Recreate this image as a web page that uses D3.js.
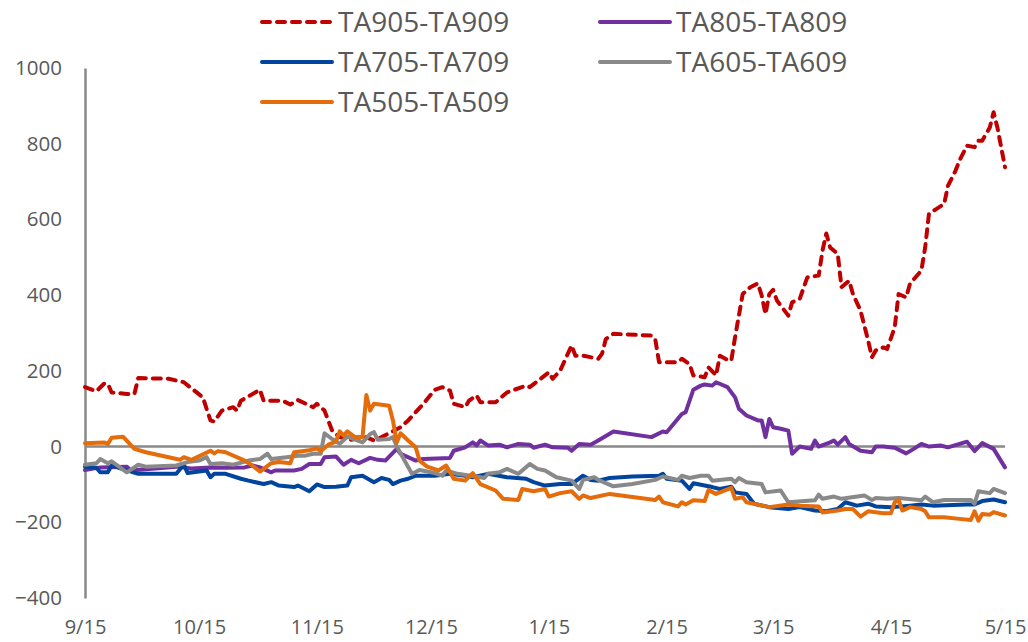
<!DOCTYPE html>
<html>
<head>
<meta charset="utf-8">
<script src="https://cdn.jsdelivr.net/npm/d3@7"></script>
<style>
  html, body { margin: 0; padding: 0; background: #ffffff; }
  svg { display: block; }
</style>
</head>
<body>
<svg id="chart" width="1028" height="642"></svg>
<script>
// ---------------- DATA ----------------
const seriesNames = ["TA905-TA909", "TA805-TA809", "TA705-TA709", "TA605-TA609", "TA505-TA509"];
const seriesColors = ["#C00000", "#7030A0", "#00449E", "#898989", "#E46C0A"];

const xTickLabels = ["9/15", "10/15", "11/15", "12/15", "1/15", "2/15", "3/15", "4/15", "5/15"];
const yTickValues = [-400, -200, 0, 200, 400, 600, 800, 1000];

const ta905Dates = ["9/15","9/18","9/20","9/21","9/22","9/26","9/28","9/29","10/7","10/11","10/16","10/18","10/19","10/21","10/24","10/25","10/26","10/31","11/1","11/6","11/8","11/10","11/14","11/15","11/17","11/19","11/21","11/24","11/28","11/30","12/2","12/7","12/9","12/13","12/16","12/18","12/20","12/21","12/24","12/25","12/27","12/28","1/1","1/4","1/9","1/10","1/15","1/16","1/18","1/21","1/22","1/24","1/28","1/29","1/30","2/1","2/11","2/12","2/13","2/18","2/19","2/21","2/22","2/24","2/25","2/26","2/28","3/1","3/3","3/4","3/5","3/7","3/9","3/11","3/12","3/13","3/14","3/15","3/16","3/19","3/20","3/22","3/24","3/27","3/28","3/29","3/30","4/1","4/2","4/4","4/5","4/7","4/9","4/10","4/11","4/13","4/14","4/16","4/17","4/19","4/20","4/23","4/24","4/25","4/27","4/29","4/30","5/2","5/3","5/5","5/7","5/8","5/9","5/11","5/12","5/13","5/15"];
const ta905Values = [157,146,166,166,143,139,139,181,179,170,130,69,66,95,104,95,121,150,121,121,111,123,104,113,95,42,25,18,25,16,25,51,69,113,150,157,148,113,104,121,135,117,117,143,161,157,196,179,201,267,240,240,232,245,284,298,293,284,223,223,232,218,188,185,183,209,188,240,229,227,289,403,421,431,399,350,403,414,386,346,381,390,447,452,518,563,526,509,421,438,403,359,280,236,254,262,258,315,403,394,430,465,526,615,628,641,689,729,755,795,791,808,808,843,883,843,738];

const ta805Dates = ["9/15","9/19","9/26","9/27","10/9","10/13","10/18","10/22","10/27","10/29","10/31","11/3","11/4","11/9","11/11","11/13","11/16","11/17","11/20","11/22","11/24","11/26","11/29","12/1","12/3","12/6","12/7","12/11","12/13","12/20","12/21","12/24","12/26","12/27","12/28","12/30","1/2","1/4","1/7","1/10","1/11","1/14","1/16","1/20","1/21","1/23","1/26","1/28","2/1","2/11","2/14","2/15","2/19","2/20","2/22","2/24","2/25","2/27","2/28","3/3","3/5","3/6","3/8","3/11","3/12","3/13","3/14","3/15","3/17","3/19","3/20","3/22","3/25","3/26","3/27","3/30","3/31","4/1","4/3","4/4","4/7","4/10","4/11","4/13","4/16","4/19","4/21","4/23","4/25","4/28","4/30","5/5","5/7","5/9","5/12","5/15"];
const ta805Values = [-62,-55,-53,-63,-53,-58,-55,-56,-55,-50,-55,-68,-63,-63,-59,-46,-46,-28,-26,-48,-35,-44,-30,-35,-37,-6,-19,-37,-33,-30,-11,-2,11,3,16,3,5,-2,7,5,-3,5,-2,-3,-11,7,5,16,40,25,40,38,86,91,150,161,164,161,170,157,130,100,82,69,69,25,73,51,47,42,-19,0,-6,16,0,11,16,5,25,7,-11,-15,0,0,-3,-18,-6,7,0,3,-2,13,-12,9,-6,-55];

const ta705Dates = ["9/15","9/18","9/19","9/21","9/22","9/26","9/29","10/9","10/11","10/12","10/17","10/18","10/19","10/22","10/26","10/28","11/1","11/3","11/5","11/9","11/10","11/13","11/15","11/17","11/20","11/23","11/24","11/27","11/30","12/2","12/4","12/5","12/7","12/9","12/11","12/16","12/20","12/24","12/26","12/30","1/4","1/9","1/11","1/14","1/18","1/21","1/24","1/26","1/28","1/31","2/6","2/13","2/14","2/15","2/19","2/21","2/22","2/25","2/27","3/1","3/4","3/5","3/8","3/10","3/14","3/19","3/22","3/26","3/29","4/1","4/3","4/6","4/9","4/11","4/15","4/20","4/23","4/26","5/5","5/7","5/9","5/12","5/15"];
const ta705Values = [-53,-56,-68,-68,-50,-63,-72,-72,-48,-70,-63,-81,-72,-72,-85,-90,-99,-94,-103,-107,-103,-118,-100,-107,-106,-103,-81,-77,-94,-83,-88,-99,-90,-85,-77,-77,-72,-77,-81,-72,-81,-85,-94,-103,-99,-99,-77,-88,-90,-83,-79,-77,-72,-85,-90,-112,-97,-103,-107,-112,-106,-121,-125,-151,-160,-165,-160,-169,-171,-165,-147,-156,-151,-158,-160,-156,-153,-156,-153,-153,-144,-140,-147];

const ta605Dates = ["9/15","9/18","9/19","9/21","9/22","9/26","9/29","10/1","10/9","10/12","10/15","10/17","10/18","10/21","10/24","10/28","10/31","11/2","11/3","11/7","11/10","11/12","11/14","11/16","11/17","11/19","11/21","11/23","11/27","11/29","11/30","12/1","12/4","12/5","12/6","12/10","12/12","12/16","12/18","12/19","12/22","12/28","12/29","12/30","1/2","1/4","1/7","1/10","1/12","1/14","1/17","1/21","1/23","1/24","1/27","1/28","2/1","2/6","2/12","2/14","2/18","2/19","2/21","2/24","2/26","2/27","3/4","3/5","3/6","3/8","3/12","3/13","3/17","3/19","3/26","3/27","3/28","3/31","4/2","4/8","4/10","4/11","4/14","4/17","4/23","4/24","4/26","4/29","5/6","5/7","5/8","5/11","5/12","5/15"];
const ta605Values = [-48,-44,-33,-44,-39,-68,-48,-53,-50,-41,-37,-28,-46,-44,-48,-37,-33,-19,-33,-28,-24,-24,-19,-19,35,20,7,26,11,33,38,18,20,25,0,-72,-62,-70,-77,-63,-72,-81,-83,-72,-68,-59,-72,-46,-59,-63,-81,-90,-112,-88,-81,-88,-105,-99,-88,-79,-88,-77,-83,-77,-77,-90,-85,-94,-83,-94,-99,-121,-116,-147,-142,-127,-138,-132,-138,-129,-141,-136,-138,-136,-142,-132,-147,-141,-141,-151,-118,-123,-112,-123];

const ta505Dates = ["9/15","9/20","9/21","9/22","9/25","9/28","10/1","10/10","10/11","10/13","10/18","10/19","10/20","10/22","10/27","10/29","10/31","11/3","11/5","11/8","11/9","11/13","11/15","11/16","11/18","11/20","11/21","11/22","11/23","11/25","11/27","11/28","11/29","11/30","12/4","12/5","12/6","12/7","12/9","12/11","12/12","12/14","12/17","12/19","12/21","12/24","12/26","12/28","1/1","1/3","1/7","1/8","1/11","1/14","1/15","1/18","1/21","1/23","1/24","1/26","1/31","2/12","2/13","2/14","2/18","2/19","2/20","2/22","2/25","2/26","2/28","3/4","3/5","3/7","3/8","3/14","3/19","3/22","3/27","3/28","4/1","4/3","4/5","4/7","4/9","4/13","4/15","4/16","4/17","4/18","4/20","4/23","4/24","4/25","4/29","5/3","5/6","5/7","5/8","5/9","5/11","5/12","5/15"];
const ta505Values = [9,11,7,23,26,-6,-15,-35,-28,-35,-11,-18,-12,-15,-37,-50,-66,-44,-41,-44,-15,-10,-4,-12,5,13,40,29,40,25,25,136,95,113,108,69,11,35,16,-2,-37,-53,-63,-50,-85,-90,-70,-99,-116,-138,-141,-112,-118,-112,-132,-123,-118,-138,-129,-136,-125,-141,-132,-147,-158,-147,-153,-142,-144,-115,-125,-109,-138,-134,-147,-160,-153,-156,-158,-174,-169,-165,-165,-185,-171,-176,-176,-147,-141,-169,-160,-165,-171,-187,-187,-191,-194,-171,-196,-178,-180,-173,-182];

// ---------------- HELPERS ----------------
function parseMD(s) {
  const [m, d] = s.split("/").map(Number);
  return new Date(m >= 9 ? 2018 : 2019, m - 1, d);
}
const seriesData = [
  [ta905Dates, ta905Values],
  [ta805Dates, ta805Values],
  [ta705Dates, ta705Values],
  [ta605Dates, ta605Values],
  [ta505Dates, ta505Values]
].map(([ds, vs], i) => ({
  name: seriesNames[i],
  color: seriesColors[i],
  dashed: i === 0,
  points: ds.map((s, j) => ({ date: parseMD(s), value: vs[j] }))
}));

// ---------------- LAYOUT ----------------
const svg = d3.select("#chart");
const plotLeft = 85, plotRight = 1005, plotTop = 68, plotBottom = 598;
const textColor = "#595959";
const tickFont = "'Open Sans', 'Liberation Sans', sans-serif";

const x = d3.scaleTime()
  .domain([parseMD(xTickLabels[0]), parseMD(xTickLabels[xTickLabels.length - 1])])
  .range([plotLeft, plotRight]);
const y = d3.scaleLinear()
  .domain([d3.min(yTickValues), d3.max(yTickValues)])
  .range([plotBottom, plotTop]);

// zero line
svg.append("line")
  .attr("x1", plotLeft).attr("x2", plotRight)
  .attr("y1", y(0)).attr("y2", y(0))
  .attr("stroke", "#898989").attr("stroke-width", 2.5);

// y axis
const yAxis = svg.append("g")
  .attr("transform", `translate(${plotLeft},0)`)
  .call(d3.axisLeft(y).tickValues(yTickValues).tickFormat(d3.format("d"))
    .tickSize(0).tickSizeOuter(0).tickPadding(23));
yAxis.select(".domain").attr("stroke", "#898989").attr("stroke-width", 2.5);
yAxis.selectAll("text")
  .attr("fill", textColor)
  .style("font-family", tickFont)
  .style("font-size", "20.5px");

// x axis (labels only)
const xAxis = svg.append("g")
  .attr("transform", `translate(0,${plotBottom})`)
  .call(d3.axisBottom(x)
    .tickValues(xTickLabels.map(parseMD))
    .tickFormat((d, i) => xTickLabels[i])
    .tickSize(0).tickSizeOuter(0).tickPadding(22));
xAxis.select(".domain").remove();
xAxis.selectAll("text")
  .attr("fill", textColor)
  .style("font-family", tickFont)
  .style("font-size", "20px");

// lines
const line = d3.line()
  .x(d => x(d.date))
  .y(d => y(d.value));

svg.append("g").selectAll("path")
  .data(seriesData)
  .join("path")
  .attr("d", d => line(d.points))
  .attr("fill", "none")
  .attr("stroke", d => d.color)
  .attr("stroke-width", 4)
  .attr("stroke-linejoin", "round")
  .attr("stroke-linecap", "round")
  .attr("stroke-dasharray", d => d.dashed ? "8 7" : null);

// legend
const legendCols = [262, 600];
const legendRows = [22, 62, 102];
const legend = svg.append("g").selectAll("g")
  .data(seriesData)
  .join("g")
  .attr("transform", (d, i) => `translate(${legendCols[i % 2]},${legendRows[Math.floor(i / 2)]})`);
legend.append("line")
  .attr("x1", 0).attr("x2", 70)
  .attr("y1", 0).attr("y2", 0)
  .attr("stroke", d => d.color)
  .attr("stroke-width", 4)
  .attr("stroke-linecap", "round")
  .attr("stroke-dasharray", d => d.dashed ? "8 7" : null);
legend.append("text")
  .attr("x", 76)
  .attr("y", 9.5)
  .attr("fill", textColor)
  .style("font-family", "'Open Sans', 'Noto Sans', sans-serif")
  .style("font-size", "28px")
  .text(d => d.name);
</script>
</body>
</html>
